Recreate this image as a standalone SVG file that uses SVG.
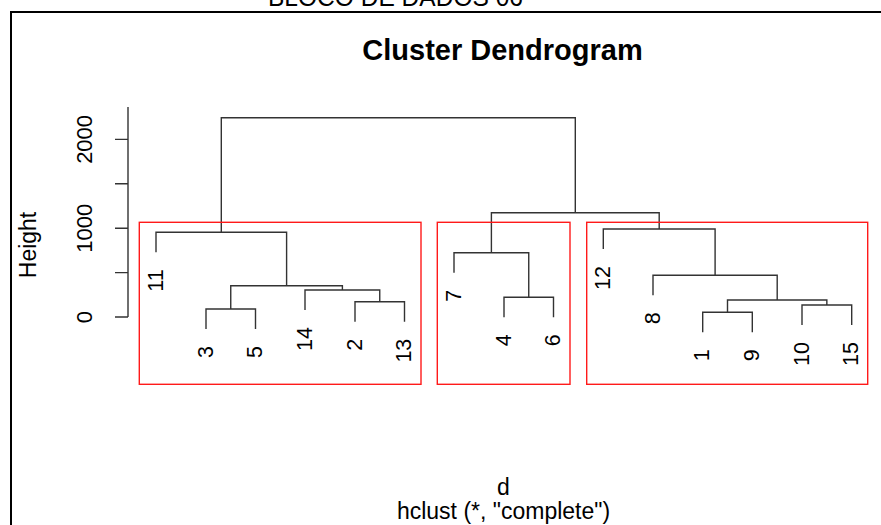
<svg xmlns="http://www.w3.org/2000/svg" width="881" height="525" viewBox="0 0 881 525">
  <style>
    .txt { font-family: "Liberation Sans", Arial, sans-serif; fill: #000; }
    .title { font-size: 29px; font-weight: bold; text-anchor: middle; }
    .axis { font-size: 22px; text-anchor: middle; }
    .leaf { font-size: 21.5px; text-anchor: end; }
    .sub { font-size: 23px; text-anchor: middle; }
    .link { fill: none; stroke: #333; stroke-width: 1.4; }
    .box { fill: none; stroke: #ff1a1a; stroke-width: 1.4; }
  </style>
  <rect width="881" height="525" fill="#fff"/>

  <!-- page heading, partly cut off at the top edge -->
  <text class="txt" x="268" y="5.5" font-size="26" textLength="255" lengthAdjust="spacingAndGlyphs">BLOCO DE DADOS 06</text>
  <!-- frame -->
  <path d="M11,525 V12 H881" fill="none" stroke="#000" stroke-width="2"/>

  <text class="txt title" x="502.5" y="60">Cluster Dendrogram</text>

  <!-- y axis -->
  <g id="y-axis">
    <path class="link" d="M128,107 V317 M115,317 H128 M115,272.6 H128 M115,228.2 H128 M115,183.8 H128 M115,139.4 H128"/>
    <text class="txt axis" transform="translate(92,317) rotate(-90)">0</text>
    <text class="txt axis" transform="translate(92,228.2) rotate(-90)">1000</text>
    <text class="txt axis" transform="translate(92,139.4) rotate(-90)">2000</text>
    <text class="txt sub" transform="translate(36,245) rotate(-90)">Height</text>
  </g>

  <!-- merges of the tree -->
  <g id="connectors">
    <path class="link" d="M206,329 V309 H255.5 V329"/>
    <path class="link" d="M355,321.7 V301.7 H404.5 V321.7"/>
    <path class="link" d="M305,310 V290 H379.75 V301.7"/>
    <path class="link" d="M230.75,309 V285.7 H342.4 V290"/>
    <path class="link" d="M156,252.3 V232.3 H286.6 V285.7"/>
    <path class="link" d="M504,317.3 V297.3 H553.5 V317.3"/>
    <path class="link" d="M454,272.7 V252.7 H528.75 V297.3"/>
    <path class="link" d="M702.7,332.3 V312.3 H752.3 V332.3"/>
    <path class="link" d="M802,325 V305 H851.7 V325"/>
    <path class="link" d="M727.5,312.3 V300 H826.85 V305"/>
    <path class="link" d="M653,295.3 V275.3 H777.2 V300"/>
    <path class="link" d="M603.3,249 V229 H715.1 V275.3"/>
    <path class="link" d="M491.4,252.7 V212.7 H659.2 V229"/>
    <path class="link" d="M221.3,232.3 V117.7 H575.3 V212.7"/>
  </g>

  <!-- leaves -->
  <g id="leaf-11"><text class="txt leaf" transform="translate(162.5,269.3) rotate(-90)">11</text></g>
  <g id="leaf-3"><text class="txt leaf" transform="translate(212.5,346) rotate(-90)">3</text></g>
  <g id="leaf-5"><text class="txt leaf" transform="translate(262,346) rotate(-90)">5</text></g>
  <g id="leaf-14"><text class="txt leaf" transform="translate(311.5,327) rotate(-90)">14</text></g>
  <g id="leaf-2"><text class="txt leaf" transform="translate(361.5,338.7) rotate(-90)">2</text></g>
  <g id="leaf-13"><text class="txt leaf" transform="translate(411,338.7) rotate(-90)">13</text></g>
  <g id="leaf-7"><text class="txt leaf" transform="translate(460.5,289.7) rotate(-90)">7</text></g>
  <g id="leaf-4"><text class="txt leaf" transform="translate(510.5,334.3) rotate(-90)">4</text></g>
  <g id="leaf-6"><text class="txt leaf" transform="translate(560,334.3) rotate(-90)">6</text></g>
  <g id="leaf-12"><text class="txt leaf" transform="translate(609.8,266) rotate(-90)">12</text></g>
  <g id="leaf-8"><text class="txt leaf" transform="translate(659.5,312.3) rotate(-90)">8</text></g>
  <g id="leaf-1"><text class="txt leaf" transform="translate(709.2,349.3) rotate(-90)">1</text></g>
  <g id="leaf-9"><text class="txt leaf" transform="translate(758.8,349.3) rotate(-90)">9</text></g>
  <g id="leaf-10"><text class="txt leaf" transform="translate(808.5,342) rotate(-90)">10</text></g>
  <g id="leaf-15"><text class="txt leaf" transform="translate(858.2,342) rotate(-90)">15</text></g>

  <!-- cluster outlines -->
  <g id="clusters">
    <rect class="box" x="139.3" y="222.3" width="281.7" height="162"/>
    <rect class="box" x="437.3" y="222.3" width="132.7" height="162"/>
    <rect class="box" x="586.7" y="222.3" width="281" height="162"/>
  </g>

  <text class="txt sub" x="503.5" y="495">d</text>
  <text class="txt sub" x="503.5" y="519">hclust (*, "complete")</text>
</svg>
